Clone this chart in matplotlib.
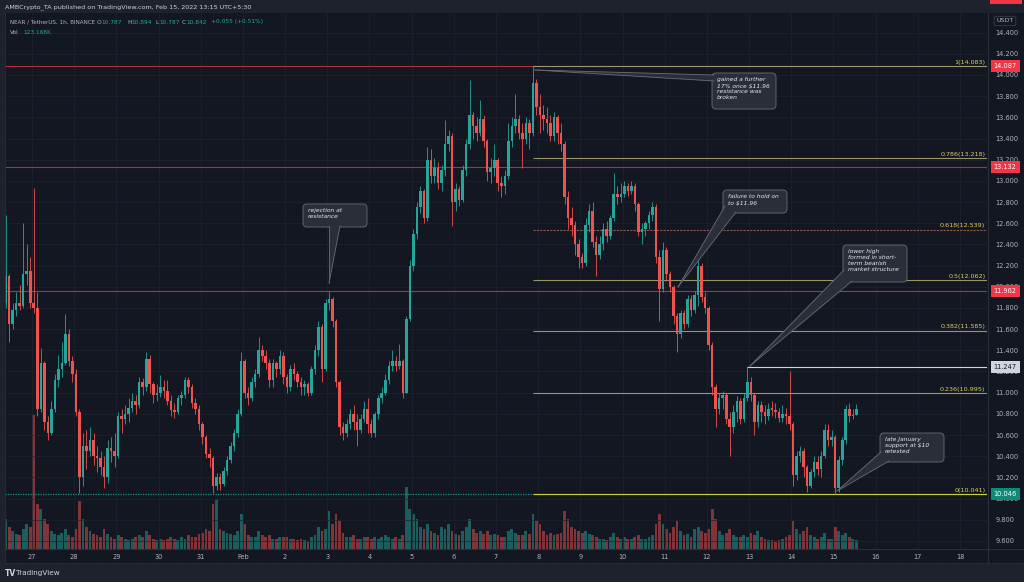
import numpy as np
import matplotlib.pyplot as plt
from matplotlib.patches import Rectangle, FancyBboxPatch, Polygon
from matplotlib.transforms import Affine2D, blended_transform_factory

first_open = 11.85
close = [
    12.10, 11.65, 11.78, 11.85, 11.82, 12.12, 12.15, 11.85,                      # Jan 26
    11.80, 10.85, 11.28, 10.72, 10.62, 10.85, 11.12, 11.22, 11.28, 11.55, 11.30, 11.18,  # 27
    10.82, 10.20, 10.50, 10.45, 10.55, 10.40, 10.38, 10.30, 10.20, 10.48, 10.45, 10.40,  # 28
    10.78, 10.75, 10.80, 10.86, 10.92, 10.88, 11.10, 11.05, 11.32, 11.08, 10.98, 11.00,  # 29
    11.05, 11.02, 10.92, 10.84, 10.82, 10.95, 10.98, 11.12, 11.05, 10.90, 10.85, 10.70,  # 30
    10.58, 10.42, 10.38, 10.12, 10.20, 10.14, 10.26, 10.36, 10.50, 10.62, 10.80, 11.30,  # 31
    11.00, 10.95, 11.10, 11.18, 11.40, 11.35, 11.28, 11.12, 11.28, 11.22, 11.35, 11.15,  # Feb 1
    11.05, 11.22, 11.18, 11.10, 11.05, 11.08, 11.00, 11.22, 11.40, 11.62, 11.22, 11.85,  # 2
    11.88, 11.68, 11.10, 10.68, 10.62, 10.70, 10.80, 10.72, 10.65, 10.75, 10.85, 10.70,  # 3
    10.62, 10.80, 10.95, 11.00, 11.12, 11.25, 11.30, 11.25, 11.30, 11.00, 11.70, 12.20,  # 4
    12.50, 12.75, 12.90, 12.65, 13.20, 13.05, 13.12, 12.98, 13.10, 13.35, 13.42, 12.80,  # 5
    12.92, 12.82, 13.10, 13.35, 13.62, 13.52, 13.45, 13.58, 13.38, 13.08, 13.12, 13.20,  # 6
    12.98, 12.95, 13.05, 13.38, 13.52, 13.58, 13.45, 13.40, 13.55, 13.45, 13.92, 13.70,  # 7
    13.62, 13.58, 13.55, 13.42, 13.60, 13.45, 13.35, 12.85, 12.65, 12.58, 12.40, 12.28,  # 8
    12.22, 12.58, 12.72, 12.42, 12.30, 12.40, 12.55, 12.48, 12.65, 12.88, 12.85, 12.88,  # 9
    12.95, 12.90, 12.95, 12.78, 12.52, 12.55, 12.60, 12.68, 12.75, 12.28, 11.98, 12.35,  # 10
    12.12, 12.00, 11.72, 11.55, 11.75, 11.65, 11.88, 11.78, 11.92, 12.20, 11.90, 11.80,  # 11
    11.45, 11.05, 10.85, 10.95, 10.98, 10.75, 10.68, 10.82, 10.92, 10.75, 10.95, 11.10,  # 12
    10.98, 10.72, 10.88, 10.82, 10.78, 10.85, 10.84, 10.82, 10.76, 10.80, 10.78, 10.70,  # 13
    10.22, 10.40, 10.45, 10.30, 10.12, 10.25, 10.35, 10.28, 10.40, 10.65, 10.55, 10.58,  # 14
    10.10, 10.36, 10.55, 10.85, 10.78, 10.79, 10.842,                                    # 15
]
high = [
    12.68, 12.12, 11.85, 11.95, 12.02, 12.60, 12.40, 12.28,
    12.93, 11.95, 11.42, 11.30, 10.78, 10.92, 11.18, 11.36, 11.48, 11.74, 11.60, 11.35,
    11.22, 10.85, 10.62, 10.65, 10.68, 10.62, 10.50, 10.45, 10.40, 10.55, 10.58, 10.62,
    10.82, 10.85, 10.88, 10.95, 11.00, 10.98, 11.15, 11.14, 11.38, 11.36, 11.10, 11.08,
    11.17, 11.12, 11.12, 10.98, 10.90, 10.98, 11.02, 11.15, 11.15, 11.08, 10.95, 10.88,
    10.72, 10.60, 10.48, 10.40, 10.24, 10.24, 10.30, 10.40, 10.53, 10.66, 10.85, 11.38,
    11.32, 11.05, 11.15, 11.22, 11.53, 11.45, 11.40, 11.32, 11.32, 11.30, 11.40, 11.38,
    11.18, 11.26, 11.28, 11.20, 11.15, 11.12, 11.10, 11.25, 11.45, 11.68, 11.65, 11.88,
    11.96, 11.90, 11.70, 11.12, 10.72, 10.75, 10.85, 10.88, 10.80, 10.80, 10.92, 10.95,
    10.75, 10.82, 10.98, 11.05, 11.18, 11.30, 11.40, 11.35, 11.46, 11.32, 11.72, 12.25,
    12.55, 12.80, 12.95, 12.92, 13.32, 13.30, 13.22, 13.18, 13.15, 13.57, 13.48, 13.45,
    12.98, 12.95, 13.15, 13.40, 13.95, 13.65, 13.60, 13.76, 13.62, 13.40, 13.22, 13.35,
    13.22, 13.05, 13.10, 13.55, 13.60, 13.82, 13.62, 13.55, 13.60, 13.58, 14.08, 13.96,
    13.82, 13.72, 13.70, 13.62, 13.65, 13.62, 13.55, 13.38, 12.90, 12.75, 12.62, 12.45,
    12.32, 12.65, 12.78, 12.80, 12.48, 12.48, 12.60, 12.62, 12.68, 13.07, 12.95, 12.98,
    13.00, 12.98, 13.00, 12.98, 12.80, 12.60, 12.62, 12.72, 12.80, 12.78, 12.35, 12.42,
    12.38, 12.15, 12.02, 11.75, 11.78, 11.78, 11.92, 11.92, 11.96, 12.32, 12.22, 11.95,
    11.82, 11.48, 11.08, 11.00, 11.02, 11.00, 10.82, 10.88, 10.97, 10.95, 11.00, 11.25,
    11.15, 11.00, 10.92, 10.92, 10.88, 10.90, 10.92, 10.90, 10.86, 10.88, 10.86, 11.20,
    10.72, 10.45, 10.50, 10.48, 10.32, 10.28, 10.40, 10.40, 10.45, 10.70, 10.70, 10.65,
    10.60, 10.40, 10.58, 10.88, 10.90, 10.85, 10.894,
]
low = [
    11.80, 11.48, 11.60, 11.72, 11.78, 11.80, 12.02, 11.80,
    11.75, 10.78, 10.82, 10.65, 10.55, 10.60, 10.82, 11.05, 11.15, 11.26, 11.25, 11.10,
    10.78, 10.05, 10.12, 10.28, 10.40, 10.32, 10.25, 10.22, 10.10, 10.15, 10.35, 10.30,
    10.38, 10.62, 10.70, 10.72, 10.82, 10.80, 10.86, 10.98, 11.02, 11.00, 10.90, 10.92,
    10.96, 10.95, 10.88, 10.78, 10.76, 10.80, 10.88, 10.95, 11.00, 10.86, 10.80, 10.65,
    10.52, 10.38, 10.30, 10.05, 10.08, 10.08, 10.12, 10.22, 10.34, 10.45, 10.58, 10.78,
    10.95, 10.88, 10.92, 11.05, 11.15, 11.30, 11.22, 11.05, 11.05, 11.15, 11.18, 11.08,
    11.00, 11.02, 11.12, 11.05, 10.98, 10.98, 10.97, 10.98, 11.18, 11.35, 11.10, 11.20,
    11.78, 11.62, 11.05, 10.60, 10.55, 10.58, 10.66, 10.65, 10.50, 10.62, 10.72, 10.62,
    10.58, 10.58, 10.75, 10.90, 10.98, 11.08, 11.20, 11.20, 11.22, 10.95, 11.00, 11.68,
    12.15, 12.45, 12.70, 12.60, 12.62, 12.98, 12.98, 12.92, 12.90, 13.05, 13.28, 12.57,
    12.72, 12.76, 12.80, 13.05, 13.30, 13.40, 13.38, 13.42, 13.32, 13.00, 12.98, 13.05,
    12.90, 12.85, 12.88, 13.02, 13.32, 13.45, 13.40, 13.12, 13.35, 13.30, 13.42, 13.62,
    13.45, 13.48, 13.45, 13.38, 13.38, 13.35, 13.28, 12.78, 12.55, 12.48, 12.30, 12.18,
    12.18, 12.20, 12.52, 12.38, 12.10, 12.26, 12.35, 12.42, 12.45, 12.62, 12.78, 12.80,
    12.85, 12.86, 12.88, 12.72, 12.48, 12.40, 12.48, 12.55, 12.62, 12.22, 11.68, 11.95,
    12.05, 11.95, 11.65, 11.38, 11.52, 11.60, 11.62, 11.72, 11.75, 11.82, 11.86, 11.75,
    11.40, 10.98, 10.68, 10.80, 10.85, 10.70, 10.40, 10.62, 10.72, 10.70, 10.72, 10.92,
    10.92, 10.60, 10.68, 10.72, 10.70, 10.74, 10.78, 10.76, 10.72, 10.72, 10.70, 10.65,
    10.12, 10.18, 10.35, 10.20, 10.06, 10.10, 10.20, 10.22, 10.20, 10.38, 10.50, 10.50,
    10.04, 10.06, 10.32, 10.52, 10.72, 10.75, 10.787,
]
volume = [  # thousands
    30, 22, 18, 15, 14, 20, 25, 22,
    134, 45, 40, 30, 25, 18, 15, 14, 16, 20, 14, 12,
    20, 48, 30, 22, 18, 15, 14, 12, 20, 15, 12, 10,
    14, 12, 10, 9, 10, 12, 14, 12, 18, 14, 10, 9,
    10, 9, 10, 12, 10, 9, 12, 10, 14, 12, 12, 15,
    16, 20, 18, 45, 50, 20, 18, 16, 15, 14, 18, 35,
    25, 14, 12, 12, 18, 14, 12, 14, 10, 10, 12, 12,
    12, 10, 10, 9, 10, 9, 8, 12, 14, 22, 18, 20,
    38, 25, 35, 28, 16, 12, 12, 14, 10, 10, 12, 12,
    10, 12, 10, 12, 14, 12, 10, 12, 10, 14, 62, 40,
    35, 30, 22, 20, 25, 18, 16, 14, 22, 20, 25, 18,
    15, 14, 18, 22, 30, 20, 16, 18, 15, 18, 14, 15,
    14, 12, 12, 18, 20, 16, 14, 14, 18, 15, 35, 28,
    25, 18, 14, 16, 14, 15, 16, 38, 30, 22, 20, 18,
    16, 18, 15, 14, 12, 10, 10, 9, 12, 16, 12, 10,
    12, 10, 10, 12, 14, 10, 10, 12, 14, 25, 35, 25,
    20, 16, 22, 28, 18, 14, 15, 12, 20, 22, 18, 16,
    20, 40, 30, 18, 14, 16, 20, 14, 12, 12, 14, 12,
    16, 14, 18, 12, 10, 9, 9, 8, 9, 10, 12, 14,
    28, 20, 15, 18, 22, 14, 12, 10, 12, 16, 10, 10,
    22, 18, 14, 16, 12, 10, 9,
]

day_labels = ['27', '28', '29', '30', '31', 'Feb', '2', '3', '4', '5', '6', '7',
              '8', '9', '10', '11', '12', '13', '14', '15', '16', '17', '18']
price_ticks = [9.6, 9.8, 10.0, 10.2, 10.4, 10.6, 10.8, 11.0, 11.2, 11.4, 11.6,
               11.8, 12.0, 12.2, 12.4, 12.6, 12.8, 13.0, 13.2, 13.4, 13.6, 13.8,
               14.0, 14.2, 14.4]

red_levels = [14.087, 13.132, 11.962]
support_level = 10.046
lower_high = 11.247
fib_names = ['1', '0.786', '0.618', '0.5', '0.382', '0.236', '0']
fib_prices = [14.083, 13.218, 12.539, 12.062, 11.585, 10.995, 10.041]
fib_start = 11.875       # Feb 7 21:00, the swing high
lower_high_start = 16.958

BG = '#131722'
UP, DOWN = '#26a69a', '#ef5350'
TXT = '#b2b5be'

fig = plt.figure(figsize=(10.24, 5.82), dpi=100, facecolor='#1e222d')
pix = Affine2D().scale(0.01, -0.01).translate(0, 5.82) + fig.dpi_scale_trans

fig.patches.append(Rectangle((5, 13), 1019, 550, transform=pix, fc=BG, ec='none', zorder=-10))

ax = fig.add_axes([5 / 1024, 33 / 582, 982 / 1024, 536 / 582])
vol_ax = ax.twinx()
ax.set_zorder(vol_ax.get_zorder() + 1)
ax.patch.set_visible(False)
vol_ax.patch.set_visible(False)

n = len(close)
x = np.arange(n) * (2 / 24) - 16 / 24 + 1 / 24
c = np.array(close)
o = np.concatenate([[first_open], c[:-1]])
colors = np.where(c >= o, UP, DOWN)

# volume
vol_ax.bar(x, volume, width=2 / 24 * 0.8, color=colors, alpha=0.5, lw=0)
vol_ax.set_ylim(0, max(volume) * 4)
vol_ax.set_yticks([])

# candles
ax.vlines(x, low, high, colors=colors, lw=0.6, zorder=4)
body = np.maximum(np.abs(c - o), 0.012)
ax.bar(x, body, bottom=np.minimum(o, c), width=2 / 24 * 0.72, color=colors, lw=0, zorder=5)

ax.set_xlim(-0.64, 22.64)
ax.set_ylim(9.524, 14.585)

# levels
for p in red_levels:
    ax.axhline(p, color='#c2343f', lw=0.8, alpha=0.9, zorder=3)
ax.axhline(support_level, color='#1f8f80', lw=0.9, ls=(0, (1, 1)), zorder=3)
ax.hlines(lower_high, lower_high_start, 22.64, color='#d1d4dc', lw=0.8, zorder=3)

for name, p in zip(fib_names, fib_prices):
    if name == '0':
        col = '#c9d43c'
    elif name == '0.618':
        col = '#8d5a55'
    else:
        col = '#9a9668'
    ax.hlines(p, fib_start, 22.64, color=col, lw=0.8,
              ls=(0, (2, 1)) if name == '0.618' else '-', zorder=3)
    ax.text(22.60, p + 0.012, f'{name}({p:.3f})', ha='right', va='bottom',
            color='#d6d05c', fontsize=4.6, zorder=6)

# axes styling
ax.set_xticks(range(len(day_labels)))
ax.set_xticklabels(day_labels)
ax.set_yticks(price_ticks)
ax.set_yticklabels([f'{p:.3f}' for p in price_ticks])
ax.yaxis.tick_right()
ax.tick_params(axis='both', length=0, colors=TXT, labelsize=4.8)
ax.tick_params(axis='y', pad=6)
ax.tick_params(axis='x', pad=3.5)
ax.grid(True, color='#1f2330', lw=0.5)
ax.set_axisbelow(True)
for a in (ax, vol_ax):
    for s in a.spines.values():
        s.set_visible(False)

# price tags on the right scale
tag = blended_transform_factory(ax.transAxes, ax.transData)
tags = [(14.087, '#f23645', 'white'), (13.132, '#f23645', 'white'),
        (11.962, '#f23645', 'white'), (11.247, '#d1d4dc', '#131722'),
        (support_level, '#0e8a78', 'white')]
for p, fc, tc in tags:
    ax.text(1.0185, p, f'{p:.3f}', transform=tag, ha='center', va='center',
            color=tc, fontsize=4.8, zorder=10,
            bbox=dict(boxstyle='square,pad=0.45', fc=fc, ec='none'))
# label above the visible range, only its lower edge shows
fig.patches.append(Rectangle((990, 0), 32, 4, transform=pix, fc='#f23645', ec='none'))
fig.text(1005, 21, 'USDT', transform=pix, ha='center', va='center', color=TXT,
         fontsize=4.6, bbox=dict(boxstyle='round,pad=0.35', fc='none', ec='#434651', lw=0.5))

# frame lines
fig.lines.append(plt.Line2D([988, 988], [13, 563], transform=pix, color='#2a2e39', lw=0.8))
fig.lines.append(plt.Line2D([5, 1024], [549, 549], transform=pix, color='#2a2e39', lw=0.8))
fig.lines.append(plt.Line2D([5, 1024], [563, 563], transform=pix, color='#363a45', lw=0.6, ls=(0, (2, 2))))
fig.lines.append(plt.Line2D([5, 5], [13, 563], transform=pix, color='#2a2e39', lw=0.6))

# header
fig.text(5, 7, 'AMBCrypto_TA published on TradingView.com, Feb 15, 2022 13:15 UTC+5:30',
         transform=pix, color='#d1d4dc', fontsize=4.6, va='center')
fig.text(10, 22, 'NEAR / TetherUS, 1h, BINANCE', transform=pix, color=TXT, fontsize=4.1, va='center')
for xx, s, col in [(97, 'O', TXT), (101, '10.787', UP), (127, 'H', TXT), (131, '10.894', UP),
                   (155, 'L', TXT), (159, '10.787', UP), (182, 'C', TXT), (186, '10.842', UP),
                   (211, '+0.055 (+0.51%)', UP)]:
    fig.text(xx, 22, s, transform=pix, color=col, fontsize=4.2, va='center')
fig.text(10, 32, 'Vol', transform=pix, color=TXT, fontsize=4.2, va='center')
fig.text(23, 32, '123.168K', transform=pix, color=UP, fontsize=4.2, va='center')

# footer
fig.text(5, 573, 'TV', transform=pix, color='#d1d4dc', fontsize=5.5, weight='bold', va='center')
fig.text(16, 573, 'TradingView', transform=pix, color='#d1d4dc', fontsize=5.2, va='center')


def callout(text, box, tip, base):
    bx, by, bw, bh = box
    fc, ec = '#2a2e39', '#6b6e79'
    fig.patches.append(FancyBboxPatch((bx, by), bw, bh, boxstyle='round,pad=0,rounding_size=4',
                                      transform=pix, fc=fc, ec=ec, lw=0.6, zorder=20))
    fig.patches.append(Polygon([base[0], tip, base[1]], closed=True, transform=pix,
                               fc=fc, ec='none', zorder=21))
    for b in base:
        fig.lines.append(plt.Line2D([b[0], tip[0]], [b[1], tip[1]], transform=pix,
                                    color=ec, lw=0.6, zorder=22))
    fig.text(bx + 5, by + 4, text, transform=pix, color='#e6e8ee', fontsize=4.3,
             style='italic', va='top', ha='left', linespacing=1.25, zorder=23)


callout('gained a further\n17% once $11.96\nresistance was\nbroken',
        (712, 73, 64, 36), (535, 70), [(714, 75), (714, 81)])
callout('rejection at\nresistance', (303, 204, 64, 23), (329, 283), [(329, 226), (340, 226)])
callout('failure to hold on\nto $11.96', (723, 190, 64, 23), (678, 287), [(725, 206), (736, 212)])
callout('lower high\nformed in short-\nterm bearish\nmarket structure',
        (843, 245, 64, 37), (750, 366), [(844, 270), (852, 281)])
callout('late January\nsupport at $10\nretested', (880, 433, 64, 29), (837, 491),
        [(881, 452), (889, 461)])

fig.savefig('out.png', dpi=100, facecolor=fig.get_facecolor())
